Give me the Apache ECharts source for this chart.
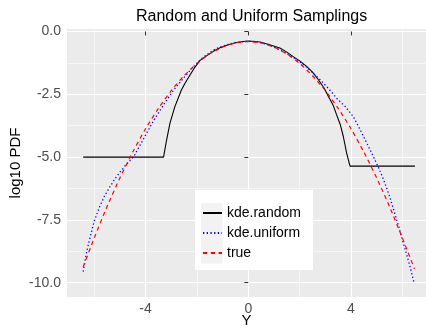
<!DOCTYPE html>
<html>
<head>
<meta charset="utf-8">
<script src="https://cdn.jsdelivr.net/npm/echarts@6/dist/echarts.min.js"></script>
<style>html,body{margin:0;padding:0;background:#fff}#c{width:426px;height:329px}</style>
</head>
<body>
<div id="c"></div>
<script>
// ---- data ----
const seriesNames = ['kde.random', 'kde.uniform', 'true'];
const xMajorTicks = [-4, 0, 4];
const xMinorTicks = [-6, -2, 2, 6];
const yMajorTicks = [0, -2.5, -5, -7.5, -10];
const yMinorTicks = [-1.25, -3.75, -6.25, -8.75];

const kdeRandomX = [-6.43, -3.3, -3.18, -3.05, -2.86, -2.6, -2.47, -2.27, -2.1, -1.88, -1.6, -1.36, -1.1, -0.84, -0.5, -0.2, 0,
  0.46, 0.8, 1.23, 1.5, 1.75, 2.0, 2.27, 2.5, 2.73, 2.95, 3.12, 3.31, 3.44, 3.58, 3.7, 3.83, 3.96, 6.49];
const kdeRandomY = [-5.0, -5.0, -4.31, -3.65, -2.99, -2.32, -2.07, -1.73, -1.45, -1.15, -0.95, -0.79, -0.65, -0.55, -0.45, -0.40, -0.38,
  -0.42, -0.52, -0.66, -0.82, -1.0, -1.17, -1.39, -1.62, -1.92, -2.25, -2.59, -2.95, -3.32, -3.7, -4.18, -4.84, -5.36, -5.36];

const kdeUniformX = [-6.43, -6.3, -6.15, -6.0, -5.8, -5.6, -5.4, -5.2, -5.0, -4.8, -4.6, -4.45, -4.2, -3.96, -3.7, -3.44, -3.18, -2.9, -2.6, -2.35, -2.14, -1.9, -1.75, -1.5, -1.36, -1.1, -0.84, -0.5, -0.19, 0.1, 0.33, 0.72, 1.0, 1.4, 1.75, 2.0, 2.27, 2.53, 2.8, 3.05, 3.25, 3.44, 3.77, 4.09, 4.48, 4.87, 5.1, 5.26, 5.39, 5.52, 5.78, 6.04, 6.3, 6.46];
const kdeUniformY = [-9.56, -8.8, -8.15, -7.55, -7.0, -6.55, -6.2, -5.88, -5.6, -5.35, -5.13, -4.96, -4.5, -4.05, -3.57, -3.14, -2.74, -2.32, -1.95, -1.65, -1.4, -1.16, -1.02, -0.84, -0.74, -0.62, -0.53, -0.44, -0.40, -0.39, -0.40, -0.51, -0.62, -0.82, -1.03, -1.2, -1.42, -1.66, -1.92, -2.19, -2.42, -2.66, -2.98, -3.39, -4.16, -4.98, -5.48, -5.88, -6.24, -6.62, -7.5, -8.43, -9.36, -10.02];

const trueX = [-6.43, -6.0, -5.5, -5.0, -4.5, -4.0, -3.5, -3.0, -2.5, -2.0, -1.5, -1.0, -0.5, 0, 0.5, 1.0, 1.5, 2.0, 2.5, 3.0, 3.5, 4.0, 4.5, 5.0, 5.5, 6.0, 6.47];
const trueY = [-9.37, -8.22, -6.97, -5.83, -4.80, -3.87, -3.06, -2.35, -1.76, -1.27, -0.89, -0.62, -0.45, -0.40, -0.45, -0.62, -0.89, -1.27, -1.76, -2.35, -3.06, -3.87, -4.80, -5.83, -6.97, -8.22, -9.45];

const zip = (xs, ys) => xs.map((x, i) => [x, ys[i]]);
const FONT = '"Liberation Sans", Arial, Helvetica, sans-serif';

const chart = echarts.init(document.getElementById('c'), null, {renderer: 'canvas'});

const xLim = [-7.06, 6.92];
const yLim = [-10.57, 0.1];

const baseAxis = {
  axisLine: {show: false},
  axisPointer: {show: false},
  nameMoveOverlap: false
};

chart.setOption({
  animation: false,
  backgroundColor: '#ffffff',
  title: {
    text: 'Random and Uniform Samplings',
    left: 131, top: 4,
    textStyle: {fontFamily: FONT, fontSize: 16, fontWeight: 'normal', color: '#000'}
  },
  grid: {left: 67, right: 0, top: 29, bottom: 32, show: true, backgroundColor: '#EBEBEB', borderWidth: 0,
         containLabel: false, outerBoundsMode: 'none'},
  xAxis: [
    Object.assign({}, baseAxis, {
      type: 'value', min: xLim[0], max: xLim[1], position: 'bottom',
      name: 'Y', nameLocation: 'middle', nameGap: 16,
      nameTextStyle: {fontFamily: FONT, fontSize: 15, color: '#000'},
      axisTick: {show: true, length: 4, customValues: xMajorTicks, lineStyle: {color: '#333', width: 1}},
      axisLabel: {customValues: xMajorTicks, margin: 5, fontFamily: FONT, fontSize: 14, color: '#4D4D4D', formatter: v => String(v)},
      splitLine: {show: true, lineStyle: {color: '#fff', width: 1.1}}
    }),
    Object.assign({}, baseAxis, {
      type: 'value', min: xLim[0], max: xLim[1], position: 'bottom',
      axisTick: {show: false, customValues: xMinorTicks},
      axisLabel: {show: false, customValues: xMinorTicks},
      splitLine: {show: true, lineStyle: {color: '#fff', width: 0.55}}
    })
  ],
  yAxis: [
    Object.assign({}, baseAxis, {
      type: 'value', min: yLim[0], max: yLim[1], position: 'left',
      name: 'log10 PDF', nameLocation: 'middle', nameGap: 44, nameRotate: 90,
      nameTextStyle: {fontFamily: FONT, fontSize: 15, color: '#000'},
      axisTick: {show: true, length: 4, customValues: yMajorTicks, lineStyle: {color: '#333', width: 1}},
      axisLabel: {customValues: yMajorTicks, margin: 6, fontFamily: FONT, fontSize: 14, color: '#4D4D4D', formatter: v => v.toFixed(1)},
      splitLine: {show: true, lineStyle: {color: '#fff', width: 1.1}}
    }),
    Object.assign({}, baseAxis, {
      type: 'value', min: yLim[0], max: yLim[1], position: 'left',
      axisTick: {show: false, customValues: yMinorTicks},
      axisLabel: {show: false, customValues: yMinorTicks},
      splitLine: {show: true, lineStyle: {color: '#fff', width: 0.55}}
    })
  ],
  graphic: [
    {type: 'rect', z: 50, shape: {x: 195, y: 190, width: 118, height: 80}, style: {fill: '#fff'}},
    {type: 'rect', z: 51, shape: {x: 201, y: 203, width: 21.5, height: 60.5}, style: {fill: '#F2F2F2'}}
  ],
  legend: {
    z: 60,
    orient: 'vertical', left: 202, top: 206,
    itemWidth: 19, itemHeight: 14, itemGap: 6, padding: 0,
    data: seriesNames,
    itemStyle: {opacity: 0},
    textStyle: {fontFamily: FONT, fontSize: 14, color: '#000', padding: [0, 0, 0, 0]}
  },
  series: [
    {name: seriesNames[0], type: 'line', xAxisIndex: 0, yAxisIndex: 0, showSymbol: false, symbol: 'none', symbolSize: 0,
     data: zip(kdeRandomX, kdeRandomY), lineStyle: {color: '#000', width: 1.1, type: 'solid'}, itemStyle: {color: '#000'}},
    {name: seriesNames[1], type: 'line', xAxisIndex: 0, yAxisIndex: 0, showSymbol: false, symbol: 'none', symbolSize: 0, smooth: false,
     data: zip(kdeUniformX, kdeUniformY), lineStyle: {color: '#0000FF', width: 1.3, type: [1.3, 2.4], cap: 'butt'}, itemStyle: {color: '#0000FF'}},
    {name: seriesNames[2], type: 'line', xAxisIndex: 0, yAxisIndex: 0, showSymbol: false, symbol: 'none', symbolSize: 0, smooth: 0.2,
     data: zip(trueX, trueY), lineStyle: {color: '#FF0000', width: 1.2, type: [4.2, 3.6], cap: 'butt'}, itemStyle: {color: '#FF0000'}}
  ]
});
</script>
</body>
</html>
